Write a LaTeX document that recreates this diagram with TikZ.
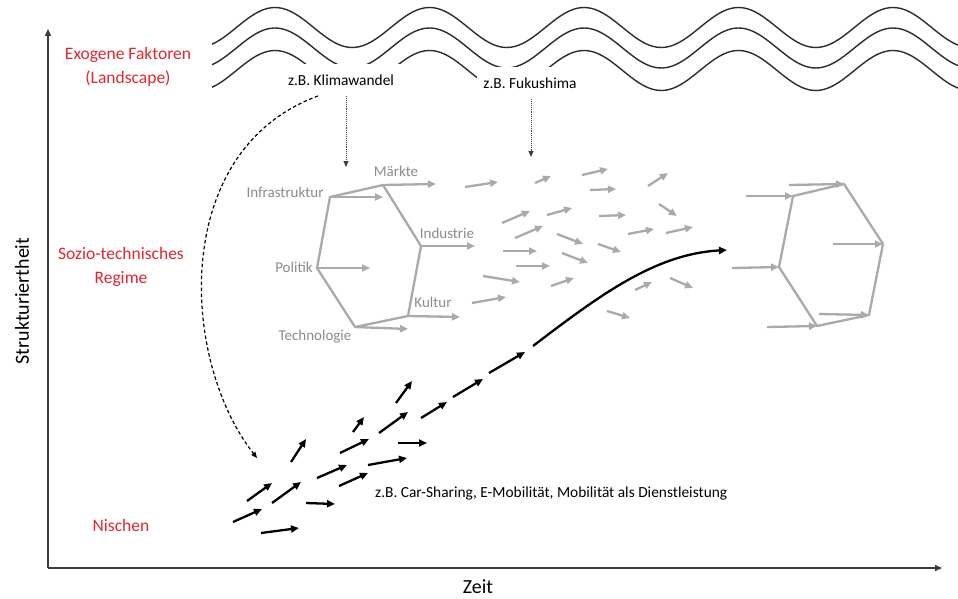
\documentclass[tikz,border=0pt]{standalone}
\usepackage{fontspec}
\setmainfont{Carlito}
\usetikzlibrary{arrows.meta}
\definecolor{lred}{RGB}{228,38,48}
\definecolor{lgray}{RGB}{170,170,170}
\definecolor{gtext}{RGB}{140,140,140}
\definecolor{wavec}{RGB}{45,45,45}
\definecolor{axisc}{RGB}{60,60,60}
\begin{document}
\begin{tikzpicture}[x=1pt,y=-1pt,
  redlab/.style={text=lred, font=\fontsize{17.5}{24}\selectfont, align=center, inner sep=0pt},
  glab/.style={text=gtext, font=\fontsize{15}{18}\selectfont, inner sep=0pt},
  blab/.style={text=black, font=\fontsize{15.4}{18}\selectfont},
  axlab/.style={text=black, font=\fontsize{20}{24}\selectfont, inner sep=0pt},
  waveline/.style={draw=wavec, line width=1.4pt},
  axisline/.style={draw=axisc, line width=1.6pt, -{Triangle[length=7pt,width=6pt]}},
  hexline/.style={draw=lgray, line width=2.3pt, line join=round},
  garrow/.style={draw=lgray, line width=2.3pt, -{Triangle[length=8pt,width=7pt]}},
  barrow/.style={draw=black, line width=2.3pt, -{Triangle[length=8pt,width=7pt]}},
  dotarrow/.style={draw=black!75, line width=0.9pt, densely dotted, -{Triangle[length=6pt,width=5pt]}},
  dasharrow/.style={draw=black, line width=1.2pt, dash pattern=on 3.5pt off 2.5pt, -{Triangle[length=6pt,width=5pt]}}
]
\fill[white] (0,0) rectangle (958,599);
\useasboundingbox (0,0) rectangle (958,599);

% landscape waves
\foreach \off in {0,20.5,43}
  \draw[waveline] plot[domain=212:960, samples=220, smooth] (\x, {27.5+\off-20*cos((\x-275)/154.5*360)});

% landscape example labels
\node[blab, fill=white, inner xsep=6pt, minimum height=32pt] (klima) at (341,80) {z.B. Klimawandel};
\node[blab, fill=white, inner xsep=6pt, minimum height=32pt] (fuku) at (530,83) {z.B. Fukushima};
\coordinate (k1) at (346,167);
\coordinate (f1) at (531,157);
\draw[dotarrow] (klima.south -| k1) -- (k1);
\draw[dotarrow] (fuku.south -| f1) -- (f1);

% dashed influence to niches
\coordinate (d0) at (318,96);
\coordinate (d1) at (257,458);
\draw[dasharrow] (d0) .. controls (170,150) and (180,360) .. (d1);

% axes
\coordinate (O) at (48,568);
\coordinate (ytip) at (48,29);
\coordinate (xtip) at (942,568);
\draw[axisline] (O) -- (ytip);
\draw[axisline] (O) -- (xtip);
\node[axlab, rotate=90] (ylab) at (22,301) {Strukturiertheit};
\node[axlab] (xlab) at (478,587) {Zeit};

% level labels
\node[redlab] (land) at (128,67) {Exogene Faktoren\\(Landscape)};
\node[redlab] (regime) at (121,267) {Sozio-technisches\\Regime};
\node[redlab] (nisch) at (121,525) {Nischen};

% left regime hexagon
\coordinate (hI) at (330,197);
\coordinate (hM) at (383,185);
\coordinate (hN) at (421,246);
\coordinate (hK) at (408,316);
\coordinate (hT) at (355,327);
\coordinate (hP) at (317,268);
\draw[hexline] (hI) -- (hM) -- (hN) -- (hK) -- (hT) -- (hP) -- cycle;
\draw[garrow] (hI) -- ++(53,0);
\draw[garrow] (hM) -- ++(53,-1);
\draw[garrow] (hN) -- ++(54,0);
\draw[garrow] (hP) -- ++(53,0);
\draw[garrow] (hK) -- ++(52,1);
\draw[garrow] (hT) -- ++(53,2);
\node[glab] (lI) at (285,192) {Infrastruktur};
\node[glab] (lM) at (396,171) {Märkte};
\node[glab] (lN) at (447,233) {Industrie};
\node[glab] (lP) at (294,267) {Politik};
\node[glab] (lK) at (433,302) {Kultur};
\node[glab] (lT) at (315,337) {Technologie};

% scattered regime arrows
\foreach \xa/\ya/\xb/\yb in {
  465/187/498/182, 535/183/551/176, 582/175/608/169, 590/190/616/189,
  648/186/668/173, 502/223/530/211, 547/215/572/208, 599/216/626/215,
  659/204/677/216, 515/238/543/226, 557/234/583/244, 628/234/654/229,
  666/233/693/227, 598/244/621/252, 503/251/537/251, 562/253/588/263,
  516/266/550/266, 483/276/520/282, 551/286/574/278, 635/290/652/282,
  670/278/693/288, 472/303/506/297, 607/311/630/318}
  \draw[garrow] (\xa,\ya) -- (\xb,\yb);

% right regime hexagon
\coordinate (r1) at (793,196);
\coordinate (r2) at (844,184);
\coordinate (r3) at (883,244);
\coordinate (r4) at (869,315);
\coordinate (r5) at (817,326);
\coordinate (r6) at (779,267);
\draw[hexline] (r1) -- (r2) -- (r3) -- (r4) -- (r5) -- (r6) -- cycle;
\draw[garrow] (746,196) -- (r1);
\draw[garrow] (789,185) -- (r2);
\draw[garrow] (833,244) -- (r3);
\draw[garrow] (732,268) -- (r6);
\draw[garrow] (819,314) -- (r4);
\draw[garrow] (767,327) -- (r5);

% niche arrows
\foreach \xa/\ya/\xb/\yb in {
  233/522/262/509, 247/501/272/483, 261/533/299/528, 272/503/301/482,
  291/462/306/439, 306/503/335/504, 317/478/347/465, 339/486/368/473,
  340/453/369/439, 353/432/364/417, 368/465/407/458, 379/433/408/412,
  396/403/412/381, 398/443/427/443, 421/418/447/402, 453/397/483/379,
  489/373/525/352}
  \draw[barrow] (\xa,\ya) -- (\xb,\yb);

% niche breakthrough curve
\coordinate (c0) at (533,346);
\coordinate (c1) at (727,250);
\draw[barrow] (c0) .. controls (600,295) and (655,254) .. (c1);

\node[blab, anchor=west, inner sep=0pt] (ex) at (375,493) {z.B. Car-Sharing, E-Mobilität, Mobilität als Dienstleistung};
\end{tikzpicture}
\end{document}
